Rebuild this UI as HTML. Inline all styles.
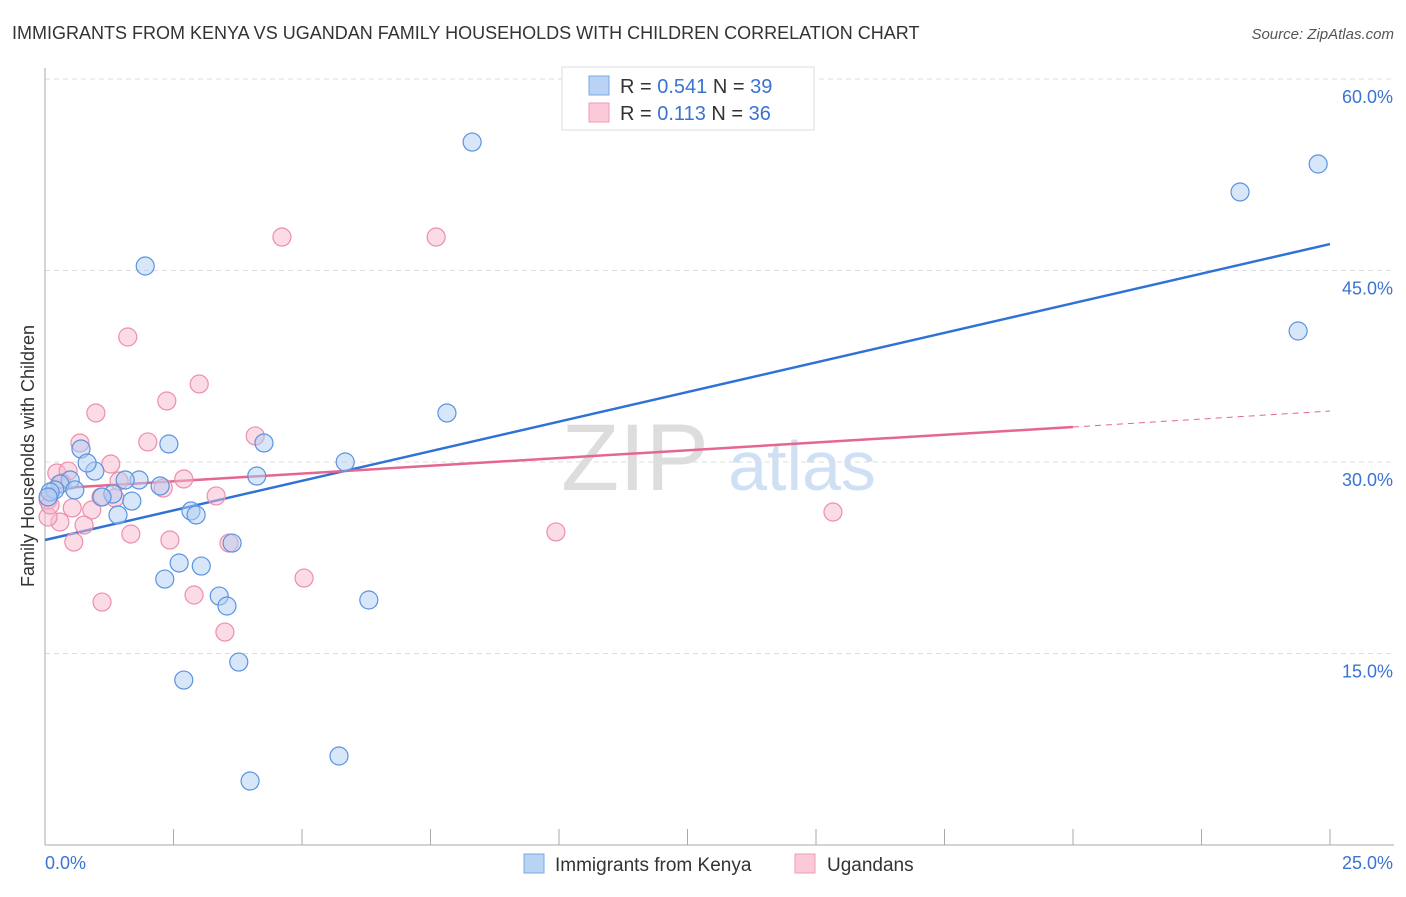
<!DOCTYPE html>
<html><head><meta charset="utf-8"><style>
body{margin:0;background:#fff;font-family:"Liberation Sans",sans-serif}
svg text{font-family:"Liberation Sans",sans-serif}
</style></head><body>
<svg id="chart" width="1406" height="892">
<text x="12" y="39" font-size="18" fill="#333">IMMIGRANTS FROM KENYA VS UGANDAN FAMILY HOUSEHOLDS WITH CHILDREN CORRELATION CHART</text>
<text x="1394" y="39" font-size="15" fill="#555" font-style="italic" text-anchor="end">Source: ZipAtlas.com</text>
<text x="635" y="490" font-size="95" fill="#ddd" text-anchor="middle" font-family="Liberation Serif">ZIP</text>
<text x="802" y="490" font-size="70" fill="#cfe0f5" text-anchor="middle">atlas</text>
<g id="grid"></g><g id="axes"></g><g id="lines"></g><g id="pts"></g>
<text transform="translate(34,456) rotate(-90)" font-size="18" fill="#333" text-anchor="middle">Family Households with Children</text>
<g>
<rect x="562" y="67" width="252" height="63" fill="#fff" stroke="#ddd"/>
<rect x="589" y="76" width="20" height="19" fill="#b9d3f5" stroke="#7aa7e6"/>
<rect x="589" y="103" width="20" height="19" fill="#fbc9d8" stroke="#f09ab4"/>
<text x="620" y="93" font-size="20" fill="#333">R = <tspan fill="#3a73d1">0.541</tspan>   N = <tspan fill="#3a73d1">39</tspan></text>
<text x="620" y="120" font-size="20" fill="#333">R =  <tspan fill="#3a73d1">0.113</tspan>   N = <tspan fill="#3a73d1">36</tspan></text>
</g>
<g>
<rect x="524" y="854" width="20" height="19" fill="#b9d3f5" stroke="#7aa7e6"/>
<text x="555" y="871" font-size="19" fill="#333">Immigrants from Kenya</text>
<rect x="795" y="854" width="20" height="19" fill="#fbc9d8" stroke="#f09ab4"/>
<text x="827" y="871" font-size="19" fill="#333">Ugandans</text>
</g>
</svg>
<script>
const blueX=[8.31,24.77,23.25,1.95,24.38,7.82,0.70,2.41,4.26,5.84,0.97,0.82,4.12,1.83,1.56,0.49,0.29,0.19,0.58,1.32,1.11,1.69,2.24,2.84,2.94,1.42,3.64,2.61,3.04,2.33,3.39,3.54,6.30,3.77,2.70,5.72,3.99,0.10,0.06];
const blueY=[55.06,53.34,51.15,45.35,40.26,33.84,31.02,31.41,31.49,30.00,29.29,29.92,28.90,28.59,28.59,28.59,28.28,27.81,27.81,27.49,27.26,26.94,28.12,26.16,25.85,25.85,23.65,22.09,21.85,20.83,19.50,18.72,19.19,14.33,12.92,6.97,5.01,27.65,27.26];
const pinkX=[4.61,7.61,1.61,3.00,2.37,0.99,0.68,2.00,4.09,1.28,0.23,0.45,2.70,2.30,3.33,1.09,1.36,0.91,0.53,0.29,0.76,1.67,2.43,0.56,3.58,9.94,15.33,5.04,2.90,1.11,3.50,0.06,0.06,0.33,1.44,0.10];
const pinkY=[47.62,47.62,39.79,36.11,34.78,33.84,31.49,31.57,32.04,29.84,29.14,29.29,28.67,27.96,27.34,27.26,27.18,26.24,26.40,25.30,25.06,24.36,23.89,23.73,23.65,24.52,26.08,20.91,19.58,19.03,16.68,25.69,27.02,28.35,28.51,26.63];
const blueLine=[23.89,47.07];
const pinkLine=[27.88,32.74,33.99];
const yTicks=[15,30,45,60];
const yTickLabels=["15.0%","30.0%","45.0%","60.0%"];
const xTicks=[0,2.5,5,7.5,10,12.5,15,17.5,20,22.5,25];
const X=v=>45+v*51.4, Y=v=>845-v*12.767;
const NS="http://www.w3.org/2000/svg";
function mk(p,t,a){const e=document.createElementNS(NS,t);for(const k in a)e.setAttribute(k,a[k]);document.getElementById(p).appendChild(e);return e;}
yTicks.forEach((t,i)=>{
 const g=mk('grid','line',{x1:45,x2:1394,y1:Y(t),y2:Y(t),stroke:'#ddd','stroke-dasharray':'5,4'});
 
 
 const l=mk('grid','text',{x:1393,y:Y(t)+24,'font-size':18,fill:'#3a73d1','text-anchor':'end'});
 l.textContent=yTickLabels[i];
 
 
});
const ya=mk('axes','line',{x1:45,x2:45,y1:68,y2:845,stroke:'#aaa'});


const xa=mk('axes','line',{x1:45,x2:1394,y1:845,y2:845,stroke:'#aaa'});


xTicks.forEach(t=>{const k=mk('axes','line',{x1:X(t),x2:X(t),y1:829,y2:845,stroke:'#aaa'});
 
 });
const x0=mk('axes','text',{x:45,y:869,'font-size':18,fill:'#3a73d1'});x0.textContent='0.0%';


const x1=mk('axes','text',{x:1393,y:869,'font-size':18,fill:'#3a73d1','text-anchor':'end'});x1.textContent='25.0%';


function dot(x,y,f,s,n){const c=mk('pts','circle',{cx:X(x),cy:Y(y),r:9,fill:f,'fill-opacity':0.5,stroke:s,'stroke-width':1.2});
 
 }
pinkX.forEach((x,i)=>dot(x,pinkY[i],'#f7b8cb','#ec8fab','ugandans-point'));
blueX.forEach((x,i)=>dot(x,blueY[i],'#afcdf3','#5a93e0','kenya-point'));
const bl=mk('lines','line',{x1:X(0),y1:Y(blueLine[0]),x2:X(25),y2:Y(blueLine[1]),stroke:'#2f72d6','stroke-width':2.5});


const pl=mk('lines','line',{x1:X(0),y1:Y(pinkLine[0]),x2:X(20),y2:Y(pinkLine[1]),stroke:'#e56690','stroke-width':2.5});


const pd=mk('lines','line',{x1:X(20),y1:Y(pinkLine[1]),x2:X(25),y2:Y(pinkLine[2]),stroke:'#e56690','stroke-width':1,'stroke-dasharray':'6,5'});


</script>
</body></html>
